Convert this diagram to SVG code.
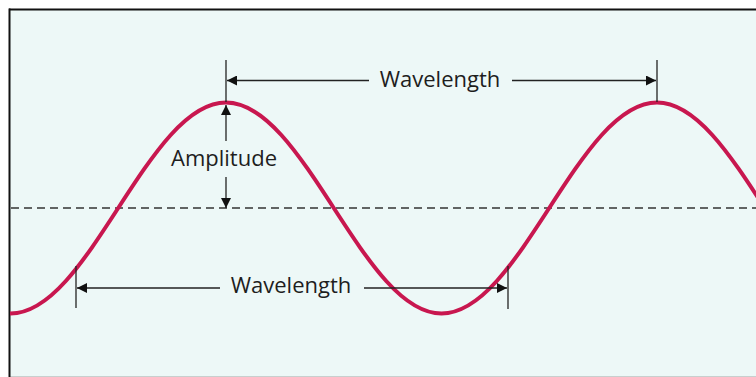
<svg xmlns="http://www.w3.org/2000/svg" width="756" height="377" viewBox="0 0 756 377">
  <style>
    .lbl { font-family: "Open Sans", "Liberation Sans", sans-serif; font-size: 22px; fill: #1e1e1e; text-anchor: middle; }
    .dim { stroke: #222; stroke-width: 1.3; fill: none; }
    .wave { stroke: #c8174f; stroke-width: 4; fill: none; stroke-linecap: round; }
  </style>
  <defs>
    <marker id="arr" viewBox="0 0 10 10" refX="10" refY="5" markerWidth="10" markerHeight="10" markerUnits="userSpaceOnUse" orient="auto-start-reverse">
      <path d="M0,0 L10,5 L0,10 Z" fill="#111"/>
    </marker>
    <clipPath id="frame">
      <rect x="10" y="10" width="746" height="367"/>
    </clipPath>
  </defs>
  <rect x="0" y="0" width="756" height="377" fill="#ffffff"/>
  <g id="background">
    <rect x="9" y="9" width="747" height="368" fill="#edf8f7"/>
    <line x1="9" y1="376.5" x2="756" y2="376.5" stroke="#c8cfce" stroke-width="1"/>
    <line x1="9" y1="9.5" x2="756" y2="9.5" stroke="#111" stroke-width="2"/>
    <line x1="9.5" y1="8.5" x2="9.5" y2="377" stroke="#111" stroke-width="2"/>
  </g>
  <g id="midline">
    <line x1="11" y1="208" x2="756" y2="208" stroke="#333" stroke-width="1.5" stroke-dasharray="8,5"/>
  </g>
  <g id="wave" clip-path="url(#frame)">
    <path class="wave" d="M-97.25,208 c35.14,54.05 68.80,105.5 107.75,105.5 s72.61,-51.45 107.75,-105.5 s68.80,-105.5 107.75,-105.5 s72.61,51.45 107.75,105.5 s68.80,105.5 107.75,105.5 s72.61,-51.45 107.75,-105.5 s68.80,-105.5 107.75,-105.5 s72.61,51.45 107.75,105.5"/>
  </g>
  <g id="connectors">
    <line class="dim" x1="226" y1="60" x2="226" y2="102"/>
    <line class="dim" x1="657" y1="60" x2="657" y2="102"/>
    <line class="dim" x1="227" y1="80.5" x2="369" y2="80.5" marker-start="url(#arr)"/>
    <line class="dim" x1="512" y1="80.5" x2="656" y2="80.5" marker-end="url(#arr)"/>
    <line class="dim" x1="76" y1="266" x2="76" y2="308"/>
    <line class="dim" x1="508" y1="266" x2="508" y2="309"/>
    <line class="dim" x1="77" y1="288" x2="220" y2="288" marker-start="url(#arr)"/>
    <line class="dim" x1="364" y1="288" x2="507" y2="288" marker-end="url(#arr)"/>
    <line class="dim" x1="226" y1="105" x2="226" y2="141" marker-start="url(#arr)"/>
    <line class="dim" x1="226" y1="177" x2="226" y2="208" marker-end="url(#arr)"/>
  </g>
  <g id="label-wavelength-top">
    <text class="lbl" x="440" y="87">Wavelength</text>
  </g>
  <g id="label-wavelength-bottom">
    <text class="lbl" x="291" y="293">Wavelength</text>
  </g>
  <g id="label-amplitude">
    <text class="lbl" x="224" y="166">Amplitude</text>
  </g>
</svg>
